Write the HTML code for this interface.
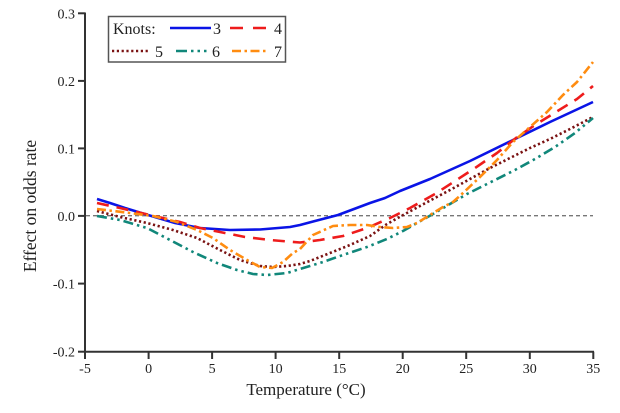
<!DOCTYPE html>
<html>
<head>
<meta charset="utf-8">
<style>
  html,body{margin:0;padding:0;background:#fff;}
  svg{display:block;}
  text{font-family:"Liberation Serif","DejaVu Serif",serif;fill:#222;}
</style>
</head>
<body>
<svg width="620" height="413" viewBox="0 0 620 413" xmlns="http://www.w3.org/2000/svg">
  <rect width="620" height="413" fill="#fff"/>

  <!-- zero reference line -->
  <line x1="86" y1="215.7" x2="593" y2="215.7" stroke="#777" stroke-width="1.3" stroke-dasharray="4 3"/>

  <!-- series -->
  <g fill="none" stroke-width="2.6" stroke-linejoin="round">
    <!-- 3 knots blue solid -->
    <polyline stroke="#0a14e6" points="97,199 110,203 125,208 148,215 175,223 200,228 230,230 260,229.5 290,227 300,225 315,221 338,215 370,203 385,198 400,191 430,179 470,161 513,140 550,122 593,102"/>
    <!-- 4 knots red dashed -->
    <polyline stroke="#ee1c1c" stroke-dasharray="12 8" points="97,203 120,208 150,215 180,222 200,228 220,232 245,237 270,240 300,242.5 320,240 343,236 367,228 390,218 410,208 435,194 455,181 475,168 497,153 516,138 535,125 556,112 577,99 593,86"/>
    <!-- 5 knots maroon dotted -->
    <polyline stroke="#7a1212" stroke-dasharray="2.2 2.6" points="97,211 120,217 147,223 173,230 197,238 220,250 240,260 260,266 273,267 287,266 300,264 310,261 330,253 350,245 370,236 387,224 405,214 433,199 450,190 470,179 490,168 510,158 530,148 550,139 570,129 593,117"/>
    <!-- 6 knots teal dash-dot-dot -->
    <polyline stroke="#11877a" stroke-dasharray="10 4 2.5 4 2.5 4" points="97,216 120,220 147,228 170,240 193,252 217,263 237,270 253,274 267,275 287,273 300,269 323,262 343,255 367,247 387,239 403,231 417,223 433,214 450,204 467,194 485,185 515,170 535,159 555,147 575,133 593,118"/>
    <!-- 7 knots orange dash-dot -->
    <polyline stroke="#ff8c10" stroke-dasharray="9 3.5 2.5 3.5" points="97,209 130,213 153,216 177,222 197,230 213,238 230,250 247,260 260,267 272,268 283,262 293,253 300,249 313,235 333,226 350,225 367,225 380,227 393,228 407,227 417,223 430,215 443,207 453,202 463,193 480,177 497,160 513,142 530,127 547,112 563,95 577,82 593,62"/>
  </g>

  <!-- axes -->
  <g stroke="#333" stroke-width="2" fill="none">
    <line x1="85" y1="12.5" x2="85" y2="352.7"/>
    <line x1="84" y1="351.7" x2="594" y2="351.7"/>
    <!-- y ticks -->
    <line x1="78" y1="13.3" x2="85" y2="13.3"/>
    <line x1="78" y1="80.9" x2="85" y2="80.9"/>
    <line x1="78" y1="148.4" x2="85" y2="148.4"/>
    <line x1="78" y1="215.9" x2="85" y2="215.9"/>
    <line x1="78" y1="283.6" x2="85" y2="283.6"/>
    <line x1="78" y1="351.7" x2="85" y2="351.7"/>
    <!-- x ticks -->
    <line x1="85" y1="351.7" x2="85" y2="359"/>
    <line x1="148.6" y1="351.7" x2="148.6" y2="359"/>
    <line x1="212.1" y1="351.7" x2="212.1" y2="359"/>
    <line x1="275.6" y1="351.7" x2="275.6" y2="359"/>
    <line x1="339.2" y1="351.7" x2="339.2" y2="359"/>
    <line x1="402.7" y1="351.7" x2="402.7" y2="359"/>
    <line x1="466.2" y1="351.7" x2="466.2" y2="359"/>
    <line x1="529.8" y1="351.7" x2="529.8" y2="359"/>
    <line x1="593.3" y1="351.7" x2="593.3" y2="359"/>
  </g>

  <!-- y tick labels -->
  <g font-size="14" text-anchor="end">
    <text x="75" y="18.3">0.3</text>
    <text x="75" y="85.9">0.2</text>
    <text x="75" y="153.4">0.1</text>
    <text x="75" y="220.9">0.0</text>
    <text x="75" y="288.6">-0.1</text>
    <text x="75" y="356.7">-0.2</text>
  </g>

  <!-- x tick labels -->
  <g font-size="14" text-anchor="middle">
    <text x="85" y="373">-5</text>
    <text x="148.6" y="373">0</text>
    <text x="212.1" y="373">5</text>
    <text x="275.6" y="373">10</text>
    <text x="339.2" y="373">15</text>
    <text x="402.7" y="373">20</text>
    <text x="466.2" y="373">25</text>
    <text x="529.8" y="373">30</text>
    <text x="593.3" y="373">35</text>
  </g>

  <!-- axis titles -->
  <text x="306" y="395" font-size="17" text-anchor="middle">Temperature (°C)</text>
  <text transform="translate(36,206) rotate(-90)" font-size="17.5" text-anchor="middle">Effect on odds rate</text>

  <!-- legend -->
  <rect x="108.5" y="16.5" width="177" height="45.5" fill="#fff" stroke="#555" stroke-width="1.5"/>
  <text x="113" y="34" font-size="16">Knots:</text>
  <line x1="170" y1="28" x2="211" y2="28" stroke="#0a14e6" stroke-width="2.6"/>
  <text x="213" y="34" font-size="16">3</text>
  <line x1="230" y1="28" x2="268" y2="28" stroke="#ee1c1c" stroke-width="2.6" stroke-dasharray="13 10"/>
  <text x="274" y="34" font-size="16">4</text>

  <line x1="112" y1="51" x2="150" y2="51" stroke="#7a1212" stroke-width="2.6" stroke-dasharray="2.2 2.6"/>
  <text x="155" y="57" font-size="16">5</text>
  <line x1="176" y1="51" x2="208" y2="51" stroke="#11877a" stroke-width="2.6" stroke-dasharray="11 4 2.5 4 2.5 4 2.5 4"/>
  <text x="212" y="57" font-size="16">6</text>
  <line x1="232" y1="51" x2="268" y2="51" stroke="#ff8c10" stroke-width="2.6" stroke-dasharray="9 3.5 2.5 3.5"/>
  <text x="274" y="57" font-size="16">7</text>
</svg>
</body>
</html>
